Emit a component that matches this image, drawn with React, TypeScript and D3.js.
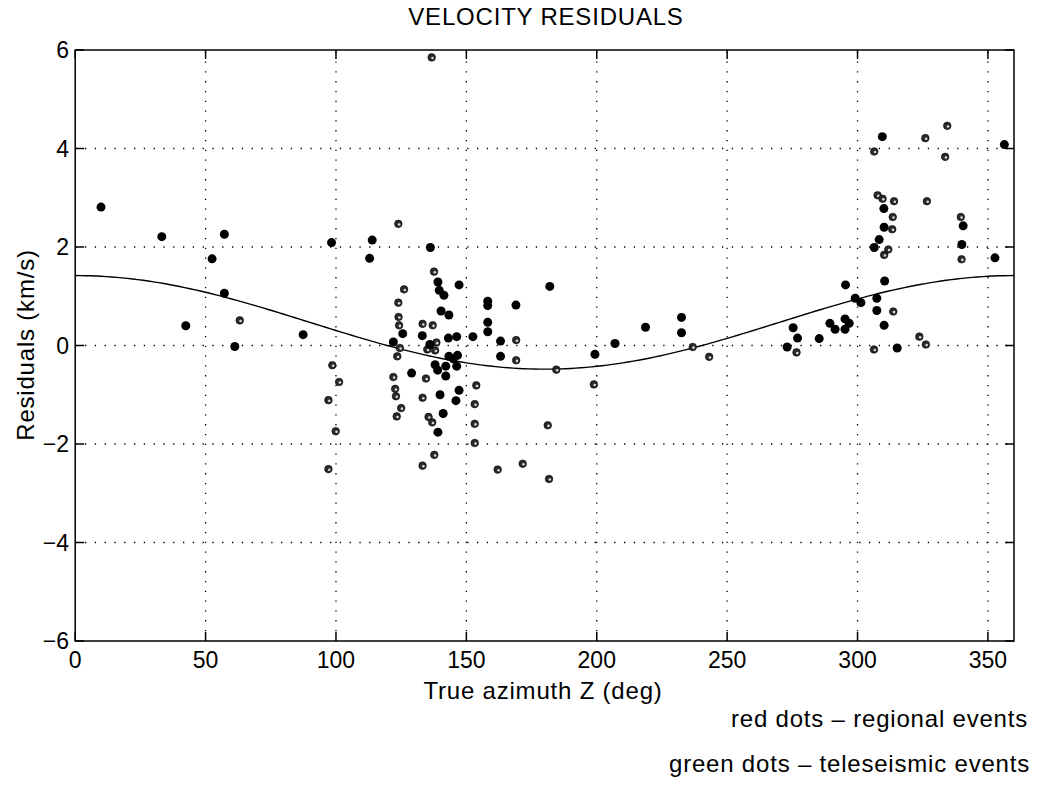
import React from "react";
import * as d3 from "d3";

// ---- data ----
const xTicks = [0, 50, 100, 150, 200, 250, 300, 350];
const yTicks = [-6, -4, -2, 0, 2, 4, 6];

// regional events (solid dots): [azimuth deg, residual km/s]
const regional: [number, number][] = [
  [9.9, 2.81], [33.2, 2.21], [57.2, 2.26], [52.5, 1.76], [57.2, 1.06], [42.4, 0.4],
  [61.2, -0.02], [87.4, 0.22], [98.3, 2.09], [113.9, 2.14], [112.9, 1.77], [122, 0.07],
  [136.2, 1.99], [139.1, 1.29], [147.2, 1.23], [139.6, 1.12], [141.4, 1.02], [182, 1.2],
  [158.2, 0.9], [158.2, 0.81], [169, 0.82], [140.3, 0.7], [143.3, 0.62], [125.6, 0.24],
  [133.1, 0.2], [143.1, 0.15], [146.3, 0.18], [152.5, 0.18], [158.2, 0.47], [158.2, 0.28],
  [163.1, 0.09], [218.7, 0.37], [232.5, 0.57], [232.5, 0.26], [207, 0.04], [199.3, -0.18],
  [143.3, -0.22], [146.6, -0.2], [145, -0.27], [163.1, -0.22], [136, 0.02],
  [129, -0.56], [138, -0.39], [139, -0.5], [142.1, -0.42], [142.1, -0.62], [146.3, -0.42],
  [139.9, -1.0], [147.2, -0.91], [146, -1.12], [141.1, -1.38], [139.1, -1.76],
  [309.5, 4.24], [356.3, 4.08], [310.1, 2.78], [310.2, 2.4], [308.3, 2.15], [306.4, 1.99],
  [340, 2.05], [340.5, 2.43], [352.7, 1.78], [310.4, 1.31], [295.4, 1.23], [299.1, 0.96],
  [301.3, 0.87], [307.4, 0.96], [307.4, 0.71], [310.2, 0.41], [275.3, 0.36], [277, 0.15],
  [273, -0.03], [285.3, 0.14], [289.4, 0.45], [291.4, 0.33], [295.2, 0.54], [296.8, 0.45],
  [295.2, 0.33], [315.2, -0.05],
];

// teleseismic events (speckled dots)
const teleseismic: [number, number][] = [
  [63.1, 0.51], [123.9, 2.47], [136.7, 5.85], [137.6, 1.5], [126.1, 1.14], [123.9, 0.87],
  [124, 0.58], [124.2, 0.41], [133.2, 0.44], [137.1, 0.41], [169.1, 0.11], [236.8, -0.03],
  [169.1, -0.3], [243.1, -0.23], [123.5, -0.22], [184.5, -0.49], [198.9, -0.79], [122, -0.64],
  [134.5, -0.67], [122.7, -0.88], [123, -1.03], [133.2, -1.06], [153.8, -0.81], [153.2, -1.19],
  [125, -1.27], [123.3, -1.44], [135.5, -1.45], [136.9, -1.56], [153.2, -1.59], [153.2, -1.98],
  [181.2, -1.62], [137.7, -2.22], [133.2, -2.44], [162, -2.52], [171.6, -2.4], [181.7, -2.71],
  [98.6, -0.4], [101.2, -0.74], [97.1, -1.11], [99.9, -1.74], [97.1, -2.51],
  [334.4, 4.46], [326, 4.21], [306.4, 3.94], [333.6, 3.83], [307.7, 3.05], [309.6, 2.98],
  [314, 2.93], [326.6, 2.93], [313.5, 2.61], [313.3, 2.36], [339.6, 2.61], [311.8, 1.95],
  [310.2, 1.84], [339.9, 1.75], [313.7, 0.69], [276.6, -0.14], [306.3, -0.08], [323.7, 0.18],
  [326.2, 0.02], [135, -0.08], [138.5, 0.06], [138, -0.1], [124.5, -0.05],
];

// fitted curve: mean + amplitude * cos(Z)
const FIT_MEAN = 0.47;
const FIT_AMP = 0.95;
const fitAzimuths = d3.range(0, 361, 2);

const FONT = "'Liberation Sans', Arial, Helvetica, sans-serif";

export default function App() {
  const W = 1049, H = 785;
  const x = d3.scaleLinear().domain([0, 360]).range([75.2, 1014]);
  const y = d3.scaleLinear().domain([-6, 6]).range([641, 50]);
  const [x0, x1] = x.range();
  const [yb, yt] = y.range();
  const tickLen = 9;
  const line = d3
    .line<number>()
    .x((z) => x(z))
    .y((z) => y(FIT_MEAN + FIT_AMP * Math.cos((z * Math.PI) / 180)));

  const fsTick = 23;
  const fsLab = 24;
  const ls = 0.8;
  return (
    <svg
      width={W}
      height={H}
      style={{ position: "absolute", left: 0, top: 0, background: "#fff" }}
      fontFamily={FONT}
    >
      <rect x={0} y={0} width={W} height={H} fill="#fff" />
      {/* grid */}
      <g stroke="#000" strokeWidth={1.3} strokeDasharray="1.3 8.5">
        {xTicks.filter((t) => t > 0).map((t) => (
          <line key={"gx" + t} x1={x(t)} x2={x(t)} y1={yb} y2={yt} />
        ))}
        {yTicks.filter((t) => t > -6 && t < 6).map((t) => (
          <line key={"gy" + t} x1={x0} x2={x1} y1={y(t)} y2={y(t)} />
        ))}
      </g>
      {/* frame */}
      <rect x={x0} y={yt} width={x1 - x0} height={yb - yt} fill="none" stroke="#000" strokeWidth={1.5} />
      {/* ticks */}
      <g stroke="#000" strokeWidth={1.5}>
        {xTicks.map((t) => (
          <g key={"tx" + t}>
            <line x1={x(t)} x2={x(t)} y1={yb} y2={yb - tickLen} />
            <line x1={x(t)} x2={x(t)} y1={yt} y2={yt + tickLen} />
          </g>
        ))}
        {yTicks.map((t) => (
          <g key={"ty" + t}>
            <line x1={x0} x2={x0 + tickLen} y1={y(t)} y2={y(t)} />
            <line x1={x1} x2={x1 - tickLen} y1={y(t)} y2={y(t)} />
          </g>
        ))}
      </g>
      {/* tick labels */}
      <g fontSize={fsTick} fill="#000">
        {xTicks.map((t) => (
          <text key={"lx" + t} x={x(t)} y={668} textAnchor="middle">
            {t}
          </text>
        ))}
        {yTicks.map((t) => (
          <text key={"ly" + t} x={69} y={y(t)} dy="0.36em" textAnchor="end">
            {t < 0 ? "\u2212" + Math.abs(t) : String(t)}
          </text>
        ))}
      </g>
      {/* fitted curve */}
      <path d={line(fitAzimuths) || ""} fill="none" stroke="#000" strokeWidth={1.4} />
      {/* teleseismic dots */}
      <g>
        {teleseismic.map(([z, v], i) => (
          <g key={"t" + i}>
            <circle cx={x(z)} cy={y(v)} r={3.8} fill="#2a2a2a" stroke="#000" strokeWidth={0.6} />
            <circle cx={x(z) + 0.8} cy={y(v) + 0.6} r={1.3} fill="#d8d8d8" />
          </g>
        ))}
      </g>
      {/* regional dots */}
      <g fill="#000">
        {regional.map(([z, v], i) => (
          <circle key={"r" + i} cx={x(z)} cy={y(v)} r={4.5} />
        ))}
      </g>
      {/* titles */}
      <g fontSize={fsLab} letterSpacing={ls}>
        <text x={546} y={25} textAnchor="middle">
          VELOCITY RESIDUALS
        </text>
        <text x={543} y={699} textAnchor="middle">
          True azimuth Z (deg)
        </text>
        <text transform={`translate(34,345) rotate(-90)`} textAnchor="middle">
          Residuals (km/s)
        </text>
        <text x={1028} y={727} textAnchor="end">
          red dots – regional events
        </text>
        <text x={1030} y={772} textAnchor="end">
          green dots – teleseismic events
        </text>
      </g>
    </svg>
  );
}
